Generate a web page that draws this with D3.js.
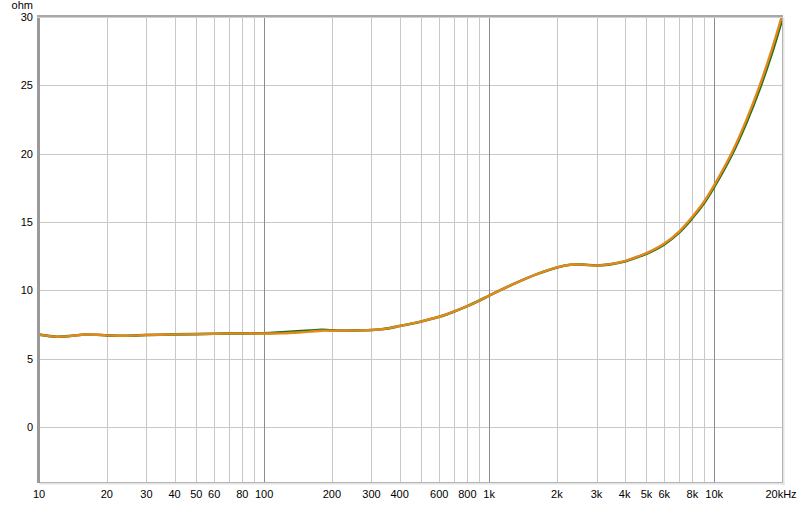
<!DOCTYPE html>
<html><head><meta charset="utf-8">
<script src="https://cdn.jsdelivr.net/npm/d3@7"></script>
<style>
html,body{margin:0;padding:0;background:#fff;}
svg{display:block;}
text{font-family:"Liberation Sans",Arial,sans-serif;font-size:11px;fill:#000;}
</style></head>
<body>
<svg id="chart" width="800" height="505"></svg>
<script>
const freqs = [10,12,14,16,18,20,24,30,40,50,60,70,80,100,120,140,160,180,200,250,300,340,400,500,600,700,800,900,1000,1280,1630,2000,2290,2600,3000,3450,4000,4700,5000,6000,7000,8000,9000,10000,12000,14000,15850,18000,20000];
const seriesOrange = [6.76,6.61,6.68,6.77,6.75,6.71,6.68,6.73,6.78,6.80,6.83,6.85,6.85,6.84,6.85,6.92,6.98,7.05,7.05,7.07,7.10,7.17,7.39,7.73,8.07,8.46,8.85,9.24,9.62,10.46,11.19,11.68,11.87,11.88,11.82,11.92,12.14,12.55,12.72,13.42,14.32,15.39,16.48,17.70,20.10,22.60,24.90,27.60,30.1];
const seriesGreen  = [6.76,6.61,6.68,6.77,6.75,6.71,6.68,6.73,6.78,6.80,6.83,6.85,6.85,6.86,6.93,7.00,7.06,7.12,7.08,7.07,7.10,7.17,7.39,7.73,8.07,8.46,8.85,9.24,9.62,10.46,11.19,11.68,11.87,11.88,11.82,11.90,12.11,12.51,12.68,13.37,14.25,15.30,16.38,17.58,19.95,22.40,24.65,27.30,29.80];
const xGridMinor = [20,30,40,50,60,70,80,90,200,300,400,500,600,700,800,900,2000,3000,4000,5000,6000,7000,8000,9000];
const xGridMajor = [100,1000,10000];
const xTickVals = [10,20,30,40,50,60,80,100,200,300,400,600,800,1000,2000,3000,4000,5000,6000,8000,10000,20000];
const xTickLabels = ["10","20","30","40","50","60","80","100","200","300","400","600","800","1k","2k","3k","4k","5k","6k","8k","10k","20kHz"];
const yTickVals = [0,5,10,15,20,25,30];
const yUnit = "ohm";

const svg = d3.select("#chart");
const L = 39, R = 782, T = 17, B = 482;
const x = d3.scaleLog().domain([10,20000]).range([L,R]);
const y = d3.scaleLinear().domain([-4.02,30]).range([B,T]);

// grid
const g = svg.append("g");
g.selectAll(".vmin").data(xGridMinor).enter().append("line")
  .attr("x1",d=>Math.round(x(d))+0.5).attr("x2",d=>Math.round(x(d))+0.5)
  .attr("y1",T).attr("y2",B).attr("stroke","#c8c8c8").attr("stroke-width",1);
g.selectAll(".hgrid").data(yTickVals).enter().append("line")
  .attr("x1",L).attr("x2",R).attr("y1",d=>Math.round(y(d))+0.5).attr("y2",d=>Math.round(y(d))+0.5)
  .attr("stroke","#c8c8c8").attr("stroke-width",1);
g.selectAll(".vmaj").data(xGridMajor).enter().append("line")
  .attr("x1",d=>Math.round(x(d))+0.5).attr("x2",d=>Math.round(x(d))+0.5)
  .attr("y1",T).attr("y2",B).attr("stroke","#8c8c8c").attr("stroke-width",1);

// curves
svg.append("defs").append("clipPath").attr("id","clip").append("rect")
  .attr("x",L).attr("y",T).attr("width",R-L).attr("height",B-T);
const line = d3.line().x(d=>x(d[0])).y(d=>y(d[1])).curve(d3.curveCatmullRom);
const cg = svg.append("g").attr("clip-path","url(#clip)");
cg.append("path").datum(freqs.map((f,i)=>[f,seriesGreen[i]]))
  .attr("d",line).attr("fill","none").attr("stroke","#1f6e1a").attr("stroke-width",2.6);
cg.append("path").datum(freqs.map((f,i)=>[f,seriesOrange[i]]))
  .attr("d",line).attr("fill","none").attr("stroke","#e2891c").attr("stroke-width",2.4);

// frame
svg.append("rect").attr("x",R+0.5).attr("y",T).attr("width",2).attr("height",B-T+3).attr("fill","#e4e4e4");
svg.append("rect").attr("x",L).attr("y",B+0.5).attr("width",R-L+3).attr("height",2).attr("fill","#e4e4e4");
svg.append("rect").attr("x",L+0.5).attr("y",T+0.5).attr("width",R-L).attr("height",B-T)
  .attr("fill","none").attr("stroke","#b4b4b4").attr("stroke-width",1);
svg.append("rect").attr("x",L-2).attr("y",T-2).attr("width",3).attr("height",B-T+3).attr("fill","#9a9a9a");
svg.append("rect").attr("x",L-2).attr("y",T-2).attr("width",R-L+3).attr("height",2).attr("fill","#a8a8a8");
svg.append("rect").attr("x",L-2).attr("y",T).attr("width",R-L+3).attr("height",1).attr("fill","#d0d0d0");

// y labels
svg.selectAll(".yl").data(yTickVals).enter().append("text")
  .attr("x",33).attr("y",d=>y(d)+4).attr("text-anchor","end").text(d=>d);
svg.append("text").attr("x",33).attr("y",9).attr("text-anchor","end").text(yUnit);

// x labels
svg.selectAll(".xl").data(xTickVals).enter().append("text")
  .attr("x",(d,i)=>x(d)+(i===xTickVals.length-1?-1:0)).attr("y",498).attr("text-anchor","middle")
  .text((d,i)=>xTickLabels[i]);
</script>
</body></html>
